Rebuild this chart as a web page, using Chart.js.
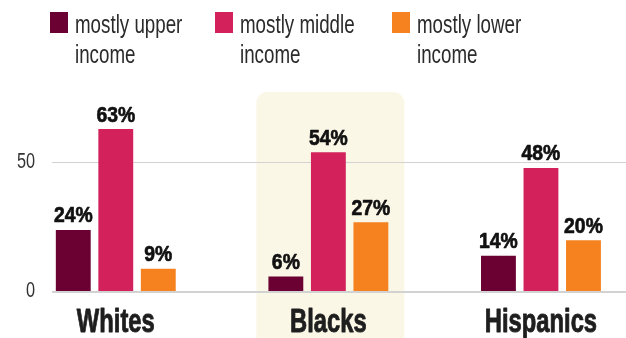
<!DOCTYPE html>
<html>
<head>
<meta charset="utf-8">
<script src="https://cdn.jsdelivr.net/npm/chart.js@4/dist/chart.umd.min.js"></script>
<style>
  html, body { margin: 0; padding: 0; background: #fff; }
  #wrap { width: 626px; height: 338px; position: relative; }
</style>
</head>
<body>
<div id="wrap"><canvas id="incomeChart" width="626" height="338"></canvas></div>
<script>
// groups and shares of each income tier (percent)
const groups = ["Whites", "Blacks", "Hispanics"];
const upperIncome = [24, 6, 14];
const middleIncome = [63, 54, 48];
const lowerIncome = [9, 27, 20];
const seriesNames = [["mostly upper", "income"], ["mostly middle", "income"], ["mostly lower", "income"]];
const seriesColors = ["#6b0033", "#d3225b", "#f5821f"];
const yTicks = [0, 50];
const highlightGroup = 1;

const FONT = "'Liberation Sans', Arial, sans-serif";

function toPoints(values) {
    return values.map((v, i) => ({ x: i, y: v }));
}

// narrow text: squeeze the glyphs horizontally around the anchor point,
// optionally with an outline in the same colour to make it heavier
function narrowText(ctx, text, x, y, sx, heavy) {
    ctx.save();
    ctx.translate(x, y);
    ctx.scale(sx, 1);
    ctx.fillText(text, 0, 0);
    if (heavy) {
        ctx.strokeStyle = ctx.fillStyle;
        ctx.lineWidth = heavy;
        ctx.lineJoin = "round";
        ctx.strokeText(text, 0, 0);
    }
    ctx.restore();
}

const seriesValues = [upperIncome, middleIncome, lowerIncome];

// cream panel behind the highlighted group
const highlightPanel = {
    id: "highlightPanel",
    beforeDraw(chart) {
        const ctx = chart.ctx;
        const cx = chart.scales.x.getPixelForValue(highlightGroup);
        const left = cx - 72, right = cx + 76, top = 92, bottom = chart.height + 10;
        ctx.save();
        ctx.fillStyle = "#fbf7e7";
        ctx.beginPath();
        ctx.roundRect(left, top, right - left, bottom - top, 11);
        ctx.fill();
        ctx.restore();
    },
};

// axis labels, drawn condensed at the scale's own tick positions
const axisLabels = {
    id: "axisLabels",
    afterDraw(chart) {
        const ctx = chart.ctx;
        const { x, y } = chart.scales;
        ctx.save();
        ctx.textBaseline = "alphabetic";
        ctx.textAlign = "right";
        ctx.fillStyle = "#333";
        ctx.font = "22px " + FONT;
        y.ticks.forEach((t) => {
            narrowText(ctx, String(t.value), 35, y.getPixelForValue(t.value) + 5, 0.74);
        });
        ctx.textAlign = "center";
        ctx.fillStyle = "#1e1e1e";
        ctx.font = "bold 33px " + FONT;
        x.ticks.forEach((t) => {
            narrowText(ctx, groups[t.value], x.getPixelForValue(t.value), 331.5, 0.72, 0.9);
        });
        ctx.restore();
    },
};

// percent labels above each bar
const valueLabels = {
    id: "valueLabels",
    afterDatasetsDraw(chart) {
        const ctx = chart.ctx;
        ctx.save();
        ctx.font = "bold 22px " + FONT;
        ctx.fillStyle = "#111";
        ctx.textAlign = "center";
        ctx.textBaseline = "alphabetic";
        chart.data.datasets.forEach((ds, di) => {
            chart.getDatasetMeta(di).data.forEach((bar, i) => {
                narrowText(ctx, ds.data[i].y + "%", bar.x, bar.y - 7.5, 0.88, 0.7);
            });
        });
        ctx.restore();
    },
};

// two-line legend across the top
const topLegend = {
    id: "topLegend",
    afterDraw(chart) {
        const ctx = chart.ctx;
        const xs = [50, 215, 392];
        ctx.save();
        ctx.font = "25px " + FONT;
        ctx.textAlign = "left";
        ctx.textBaseline = "alphabetic";
        seriesNames.forEach((lines, i) => {
            ctx.fillStyle = seriesColors[i];
            ctx.fillRect(xs[i], 12, 18, 21);
            ctx.fillStyle = "#2b2b2b";
            lines.forEach((line, j) => {
                narrowText(ctx, line, xs[i] + 25, 33 + j * 29.5, 0.75);
            });
        });
        ctx.restore();
    },
};

new Chart(document.getElementById("incomeChart"), {
    type: "bar",
    data: {
        datasets: seriesValues.map((vals, i) => ({
            label: seriesNames[i].join(" "),
            data: toPoints(vals),
            backgroundColor: seriesColors[i],
            borderWidth: 0,
        })),
    },
    options: {
        responsive: false,
        animation: false,
        categoryPercentage: 0.6,
        barPercentage: 0.82,
        layout: {
            padding: { top: 111, right: 0, left: 0, bottom: 0 },
        },
        plugins: {
            legend: { display: false },
            tooltip: { enabled: false },
        },
        scales: {
            x: {
                type: "linear",
                offset: false,
                min: -0.3,
                max: 2.4,
                afterBuildTicks(scale) {
                    scale.ticks = groups.map((g, i) => ({ value: i }));
                },
                afterFit(scale) {
                    scale.height = 46;
                },
                grid: { display: false },
                border: { display: false },
                ticks: { display: false },
            },
            y: {
                min: 0,
                max: 70,
                afterBuildTicks(scale) {
                    scale.ticks = yTicks.map((v) => ({ value: v }));
                },
                afterFit(scale) {
                    scale.width = 52;
                },
                border: { display: false },
                grid: {
                    drawTicks: false,
                    color: "#d2d2d2",
                    lineWidth: (c) => (c.tick && c.tick.value === 0 ? 2 : 1),
                },
                ticks: { display: false },
            },
        },
    },
    plugins: [highlightPanel, valueLabels, axisLabels, topLegend],
});
</script>
</body>
</html>
